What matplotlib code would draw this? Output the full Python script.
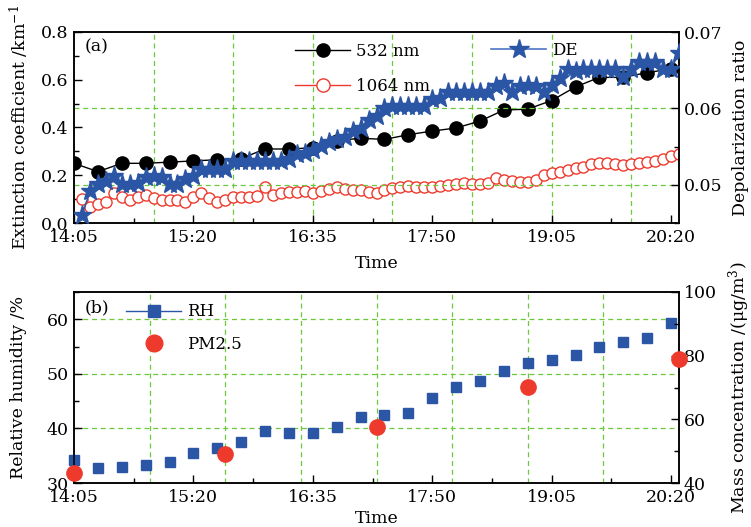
import numpy as np
import matplotlib
matplotlib.use('Agg')
import matplotlib.pyplot as plt
from matplotlib.lines import Line2D
from matplotlib.ticker import MultipleLocator, FormatStrFormatter, FixedLocator

plt.rcParams['font.family'] = ['DejaVu Serif']
plt.rcParams['mathtext.fontset'] = 'dejavuserif'
FS = 12.5
LFS = 12

# ---------------- data ----------------
tick_pos = [0, 75, 150, 225, 300, 375]          # minutes after 14:05
tick_labels = ['14:05', '15:20', '16:35', '17:50', '19:05', '20:20']

t_532 = np.arange(26) * 15                      # 14:05 .. 20:20, every 15 min
ext_532 = [0.25, 0.215, 0.25, 0.25, 0.255, 0.26, 0.265, 0.27, 0.31, 0.31,
           0.315, 0.345, 0.355, 0.35, 0.37, 0.385, 0.398, 0.427, 0.473, 0.477,
           0.513, 0.57, 0.61, 0.61, 0.63, 0.645]

t_5min = 5 + np.arange(76) * 5                  # 14:10 .. 20:25, every 5 min
ext_1064 = [0.10, 0.067, 0.08, 0.088, 0.125, 0.11, 0.096, 0.108, 0.117, 0.104,
            0.096, 0.096, 0.096, 0.088, 0.11, 0.125, 0.104, 0.088, 0.096, 0.108,
            0.108, 0.108, 0.113, 0.15, 0.117, 0.126, 0.13, 0.13, 0.134, 0.126,
            0.134, 0.142, 0.15, 0.142, 0.138, 0.138, 0.13, 0.126, 0.138, 0.146,
            0.15, 0.155, 0.15, 0.15, 0.15, 0.155, 0.16, 0.163, 0.167, 0.163,
            0.163, 0.167, 0.19, 0.18, 0.176, 0.172, 0.172, 0.18, 0.2, 0.21,
            0.214, 0.222, 0.23, 0.235, 0.247, 0.251, 0.251, 0.247, 0.243, 0.247,
            0.251, 0.255, 0.26, 0.268, 0.28, 0.29]
depol = [0.0460, 0.0492, 0.0501, 0.0505, 0.0512, 0.0501, 0.0501, 0.0502, 0.0510, 0.0512,
         0.0510, 0.0501, 0.0501, 0.0507, 0.0512, 0.0521, 0.0521, 0.0521, 0.0521, 0.0531,
         0.0531, 0.0531, 0.0531, 0.0531, 0.0531, 0.0531, 0.0534, 0.0540, 0.0542, 0.0545,
         0.0551, 0.0556, 0.0560, 0.0562, 0.0570, 0.0575, 0.0585, 0.0590, 0.0601, 0.0603,
         0.0603, 0.0603, 0.0603, 0.0603, 0.0612, 0.0614, 0.0621, 0.0621, 0.0621, 0.0621,
         0.0621, 0.0621, 0.0629, 0.0633, 0.0621, 0.0629, 0.0631, 0.0629, 0.0621, 0.0631,
         0.0640, 0.0651, 0.0649, 0.0651, 0.0651, 0.0651, 0.0651, 0.0651, 0.0641, 0.0651,
         0.0661, 0.0661, 0.0661, 0.0651, 0.0651, 0.0673]

t_rh = np.arange(26) * 15
rh = [34.2, 32.7, 33.0, 33.3, 33.9, 35.5, 36.4, 37.5, 39.5, 39.2,
      39.2, 40.3, 42.1, 42.5, 42.8, 45.5, 47.5, 48.7, 50.6, 52.0,
      52.6, 53.4, 54.9, 55.8, 56.5, 59.4]

t_pm = [0, 95, 190, 285, 380]
pm25 = [43.0, 49.1, 57.7, 70.2, 79.0]

# ---------------- style ----------------
GREEN = '#6cc83c'
BLUE = '#2b55a5'
RED = '#ee3a2c'
grid_kw = dict(color=GREEN, lw=0.9, ls=(0, (4, 3)), zorder=0.5)

fig = plt.figure(figsize=(7.51, 5.27), dpi=100)
L, W = 74 / 751, 605 / 751
ax1 = fig.add_axes([L, (527 - 223) / 527, W, 191 / 527])
ax3 = fig.add_axes([L, (527 - 483) / 527, W, 191 / 527])


def style_x(ax, xpad):
    ax.set_xlim(0, 380)
    ax.xaxis.set_major_locator(FixedLocator(tick_pos))
    ax.set_xticklabels(tick_labels)
    ax.xaxis.set_minor_locator(FixedLocator([p + 37.5 for p in tick_pos[:-1]]))
    ax.tick_params(axis='both', which='major', direction='in', length=5.5, width=1,
                   labelsize=FS, top=False, right=False, pad=4)
    ax.tick_params(axis='both', which='minor', direction='in', length=3.5, width=1,
                   top=False, right=False)
    for s in ax.spines.values():
        s.set_linewidth(1.1)
    ax.set_xlabel('Time', fontsize=FS, labelpad=xpad)


# ---------------- panel (a) ----------------
style_x(ax1, 7)
ax1.set_ylim(0, 0.8)
ax1.yaxis.set_major_locator(MultipleLocator(0.2))
ax1.yaxis.set_minor_locator(MultipleLocator(0.1))
ax1.yaxis.set_major_formatter(FormatStrFormatter('%.1f'))
ax1.set_ylabel('Extinction coefficient /km$^{-1}$', fontsize=FS, labelpad=7)
for gx in np.arange(50, 380, 50):
    ax1.axvline(gx, **grid_kw)

ax1.plot(t_532, ext_532, '-o', color='black', lw=1.0, ms=9.5, zorder=3)
ax1.plot(t_5min, ext_1064, '-o', color=RED, lw=1.0, ms=8, mfc='white',
         mec=RED, mew=1.0, zorder=2)

ax2 = ax1.twinx()
ax2.set_ylim(0.045, 0.07)
ax2.yaxis.set_major_locator(MultipleLocator(0.01))
ax2.yaxis.set_minor_locator(MultipleLocator(0.005))
ax2.yaxis.set_major_formatter(FormatStrFormatter('%.2f'))
ax2.tick_params(axis='y', which='major', direction='in', length=5.5, width=1, labelsize=FS)
ax2.tick_params(axis='y', which='minor', direction='in', length=3.5, width=1)
for s in ax2.spines.values():
    s.set_linewidth(1.1)
for gy in [0.05, 0.06]:
    ax2.axhline(gy, **grid_kw)
ax2.plot(t_5min, depol, '-*', color=BLUE, lw=1.0, ms=14, mec=BLUE, zorder=3)
ax2.set_ylabel('Depolarization ratio', fontsize=FS, labelpad=7)

ax2.text(0.018, 0.92, '(a)', transform=ax2.transAxes, fontsize=FS, va='center', ha='left')
h532 = Line2D([], [], color='black', lw=1.0, marker='o', ms=9.5)
h1064 = Line2D([], [], color=RED, lw=1.0, marker='o', ms=9.5, mfc='white', mec=RED)
leg1 = ax2.legend([h532, h1064], ['532 nm', '1064 nm'], loc='upper left',
                  bbox_to_anchor=(0.366, 0.945), frameon=False, fontsize=LFS,
                  handlelength=3.3, handletextpad=0.35, labelspacing=1.1,
                  borderpad=0, borderaxespad=0)
ax2.add_artist(leg1)
hde = Line2D([], [], color='#4d76c4', lw=1.2, marker='*', ms=15, mfc=BLUE, mec=BLUE)
ax2.legend([hde], ['DE'], loc='upper left', bbox_to_anchor=(0.69, 0.95),
           frameon=False, fontsize=LFS, handlelength=3.3, handletextpad=0.35,
           borderpad=0, borderaxespad=0)

# ---------------- panel (b) ----------------
style_x(ax3, 3)
ax3.set_ylim(30, 65)
ax3.yaxis.set_major_locator(MultipleLocator(10))
ax3.yaxis.set_minor_locator(MultipleLocator(5))
ax3.set_ylabel('Relative humidity /%', fontsize=FS, labelpad=14)
for gx in np.arange(47.5, 380, 47.5):
    ax3.axvline(gx, **grid_kw)
for gy in [40, 50, 60]:
    ax3.axhline(gy, **grid_kw)
ax3.plot(t_rh, rh, 's', color=BLUE, ms=7.5, zorder=3, clip_on=False)

ax4 = ax3.twinx()
ax4.set_ylim(40, 100)
ax4.yaxis.set_major_locator(MultipleLocator(20))
ax4.yaxis.set_minor_locator(MultipleLocator(10))
ax4.tick_params(axis='y', which='major', direction='in', length=5.5, width=1, labelsize=FS)
ax4.tick_params(axis='y', which='minor', direction='in', length=3.5, width=1)
for s in ax4.spines.values():
    s.set_linewidth(1.1)
ax4.plot(t_pm, pm25, 'o', color=RED, ms=11, zorder=4, clip_on=False)
ax4.set_ylabel('Mass concentration /(μg/m$^3$)', fontsize=FS, labelpad=7)

ax4.text(0.018, 0.916, '(b)', transform=ax4.transAxes, fontsize=FS, va='center', ha='left')
hrh = Line2D([], [], color=BLUE, lw=1.0, marker='s', ms=8)
hpm = Line2D([], [], color=RED, lw=0, marker='o', ms=12)
ax4.legend([hrh, hpm], ['RH', 'PM2.5'], loc='upper left', bbox_to_anchor=(0.086, 0.94),
           frameon=False, fontsize=LFS, handlelength=3.3, handletextpad=0.35,
           labelspacing=0.95, borderpad=0, borderaxespad=0)

fig.savefig('out.png', dpi=100)
